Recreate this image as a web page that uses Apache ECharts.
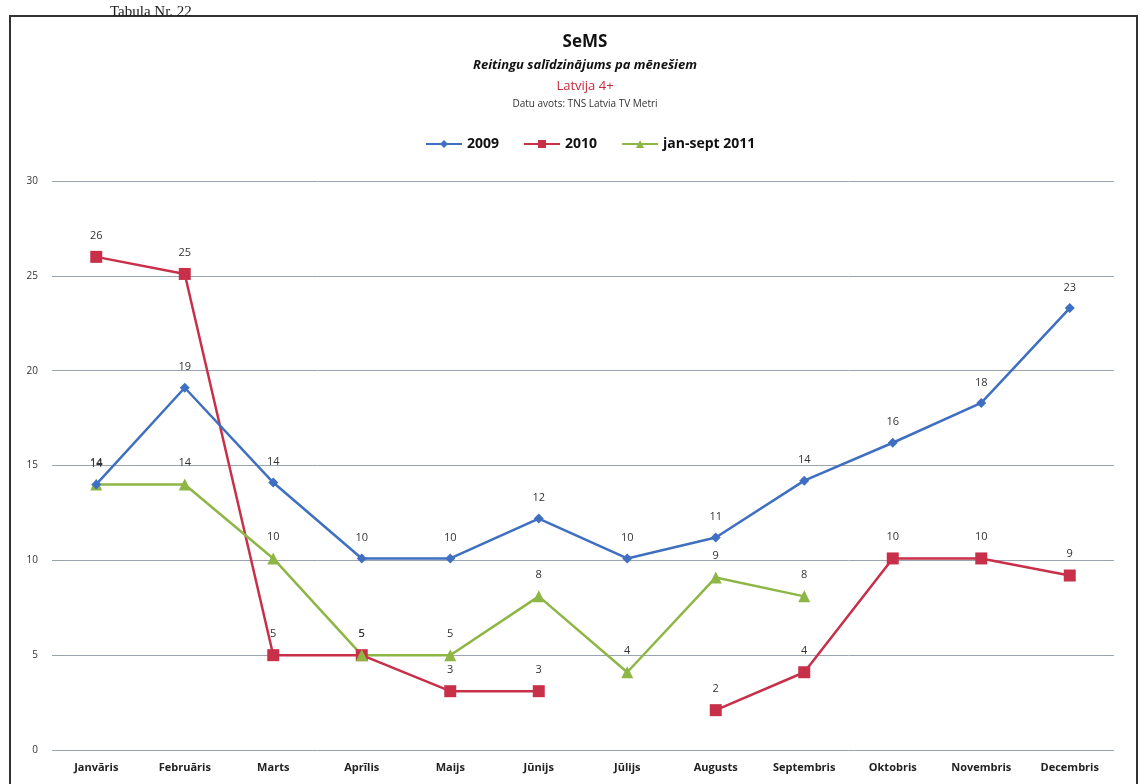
<!DOCTYPE html>
<html>
<head>
<meta charset="utf-8">
<script src="https://cdn.jsdelivr.net/npm/echarts@6/dist/echarts.min.js"></script>
<style>
  html, body { margin: 0; padding: 0; background: #fff; }
  #chart { width: 1140px; height: 784px; }
</style>
</head>
<body>
<div id="chart"></div>
<script>
// mēneši
const months = ["Janvāris", "Februāris", "Marts", "Aprīlis", "Maijs", "Jūnijs",
  "Jūlijs", "Augusts", "Septembris", "Oktobris", "Novembris", "Decembris"]

// reitingi (nolasīti no attēla)
const data2009 = [14.0, 19.1, 14.1, 10.1, 10.1, 12.2, 10.1, 11.2, 14.2, 16.2, 18.3, 23.3]
const data2010 = [26.0, 25.1, 5.0, 5.0, 3.1, 3.1, null, 2.1, 4.1, 10.1, 10.1, 9.2]
const data2011 = [14.0, 14.0, 10.1, 5.0, 5.0, 8.1, 4.1, 9.1, 8.1]

const yTicks = [0, 5, 10, 15, 20, 25, 30]

const font = "'Open Sans', 'DejaVu Sans', sans-serif"

const makeSeries = (name, data, color, symbol, size) => ({
  name: name,
  type: "line",
  data: data,
  symbol: symbol,
  symbolSize: size,
  connectNulls: false,
  lineStyle: { color: color, width: 2.5 },
  itemStyle: { color: color },
  label: {
    show: true,
    position: "top",
    distance: 10,
    fontFamily: font,
    fontSize: 11,
    color: "#333",
    formatter: (p) => Math.round(p.value)
  }
})

const chart = echarts.init(document.getElementById("chart"))

chart.setOption({
  backgroundColor: "#fff",
  animation: false,
  title: [
    {
      text: "SeMS",
      left: 580, top: 29, textAlign: "center",
      textStyle: { fontFamily: font, fontSize: 17, fontWeight: "bold", color: "#111" }
    },
    {
      text: "Reitingu salīdzinājums pa mēnešiem",
      left: 580, top: 54, textAlign: "center",
      textStyle: { fontFamily: font, fontSize: 13, fontWeight: "bold", fontStyle: "italic", color: "#111" }
    },
    {
      text: "Latvija 4+",
      left: 580, top: 75, textAlign: "center",
      textStyle: { fontFamily: font, fontSize: 13, fontWeight: "normal", color: "#c8283c" }
    },
    {
      text: "Datu avots: TNS Latvia TV Metri",
      left: 580, top: 94, textAlign: "center",
      textStyle: { fontFamily: font, fontSize: 10, fontWeight: "normal", color: "#333" }
    },
    {
      text: "Tabula Nr. 22",
      left: 105, top: 0,
      textStyle: { fontFamily: "'Liberation Serif', serif", fontSize: 15, fontWeight: "normal", color: "#222" }
    }
  ],
  legend: {
    top: 132,
    left: 420,
    itemWidth: 36,
    itemHeight: 10,
    itemGap: 24,
    textStyle: { fontFamily: font, fontSize: 14, fontWeight: "bold", color: "#111" },
    data: ["2009", "2010", "jan-sept 2011"]
  },
  graphic: [
    {
      type: "rect",
      shape: { x: 10, y: 16, width: 1127, height: 790 },
      style: { fill: "none", stroke: "#333", lineWidth: 2 }
    }
  ],
  grid: { left: 52, right: 26, top: 181, bottom: 34 },
  xAxis: {
    type: "category",
    data: months,
    boundaryGap: true,
    axisLine: { show: false },
    axisTick: { show: false },
    axisLabel: {
      interval: 0,
      margin: 12,
      fontFamily: font,
      fontSize: 11,
      fontWeight: "bold",
      color: "#222"
    }
  },
  yAxis: {
    type: "value",
    min: 0,
    max: 30,
    interval: 5,
    axisLine: { show: false },
    axisTick: { show: false },
    axisLabel: {
      margin: 14,
      fontFamily: font,
      fontSize: 10,
      color: "#333",
      formatter: (v) => (yTicks.includes(v) ? String(v) : "")
    },
    splitLine: { lineStyle: { color: "#9aa3b0", width: 1 } }
  },
  series: [
    makeSeries("2010", data2010, "#c8304a", "rect", 12),
    makeSeries("jan-sept 2011", data2011, "#8db645", "triangle", 12),
    makeSeries("2009", data2009, "#3f6fc0", "diamond", 10)
  ]
})
</script>
</body>
</html>
